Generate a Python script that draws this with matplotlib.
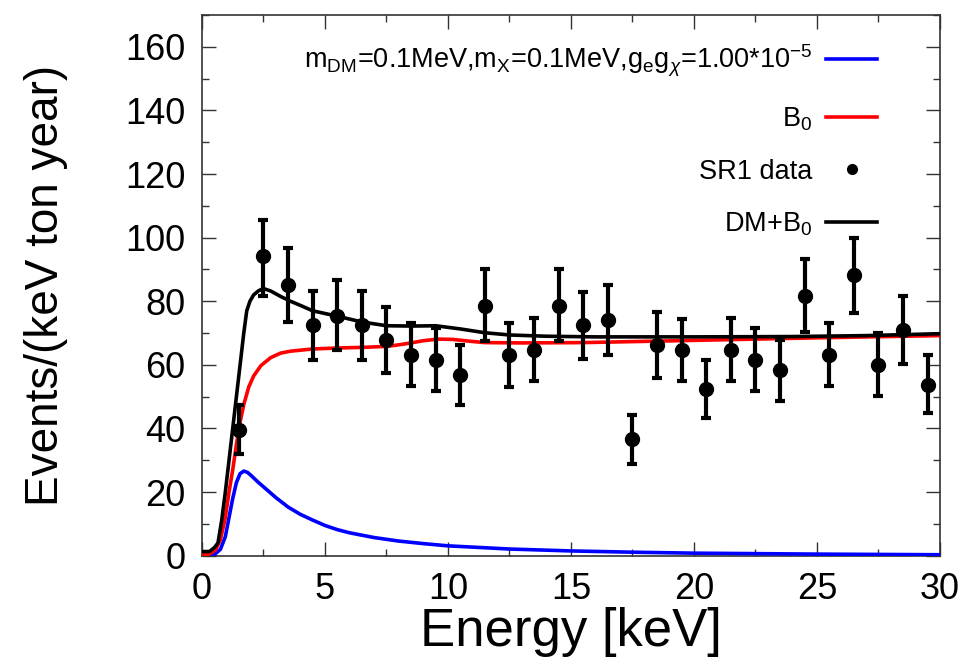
import numpy as np
import matplotlib
matplotlib.use('Agg')
import matplotlib.pyplot as plt
from matplotlib.ticker import MultipleLocator

plt.rcParams['font.family'] = ['Liberation Sans', 'DejaVu Sans']
plt.rcParams['mathtext.fontset'] = 'custom'
plt.rcParams['mathtext.rm'] = 'Liberation Sans'
plt.rcParams['mathtext.it'] = 'Liberation Sans:italic'
plt.rcParams['mathtext.sf'] = 'Liberation Sans'

# ---- SR1 data (bin centres, value, error bar ends) ----
sr1_x = [1.5, 2.5, 3.5, 4.5, 5.5, 6.5, 7.5, 8.5, 9.5, 10.5, 11.5, 12.5, 13.5, 14.5, 15.5,
         16.5, 17.5, 18.5, 19.5, 20.5, 21.5, 22.5, 23.5, 24.5, 25.5, 26.5, 27.5, 28.5, 29.5]
sr1_y = [39.6, 94.2, 85.0, 72.4, 75.5, 72.4, 67.9, 63.2, 61.6, 56.7, 78.6, 63.2, 64.6, 78.6, 72.4,
         74.0, 36.8, 66.2, 64.6, 52.4, 64.6, 61.6, 58.3, 81.8, 63.2, 88.1, 60.1, 70.9, 53.8]
sr1_hi = [47.5, 105.7, 96.8, 83.2, 86.6, 83.2, 78.2, 73.2, 71.6, 66.4, 90.0, 73.2, 74.8, 90.0, 83.0,
          85.0, 44.3, 76.5, 74.4, 61.4, 74.8, 71.6, 67.9, 93.3, 73.2, 100.0, 70.0, 81.6, 63.0]
sr1_lo = [32.0, 81.6, 73.4, 61.6, 64.8, 61.6, 57.4, 53.2, 51.7, 47.5, 67.4, 53.0, 54.8, 67.4, 62.0,
          63.2, 28.8, 55.9, 54.8, 43.3, 54.8, 51.7, 48.7, 70.2, 53.2, 76.3, 50.1, 60.4, 44.8]

# ---- B0 background (red) ----
b0_x = [0, 0.3, 0.55, 0.75, 0.95, 1.1, 1.25, 1.4, 1.55, 1.7, 1.9, 2.1, 2.4, 2.8, 3.2, 3.6,
        4.5, 5.5, 6.5, 7.5, 8.0, 8.5, 9.0, 9.6, 10.2, 10.8, 11.5, 13, 15.5, 20, 25, 30]
b0_y = [0.2, 0.5, 1.8, 5, 12, 20, 27, 35, 42, 47.5, 53, 56.5, 59.8, 62.3, 63.7, 64.3,
        65.0, 65.3, 65.5, 65.8, 66.3, 66.9, 67.6, 68.1, 68.0, 67.5, 67.0, 66.9, 67.0, 67.7, 68.5, 69.2]

# ---- DM signal (blue) ----
dm_x = [0, 0.5, 0.75, 0.95, 1.1, 1.25, 1.4, 1.55, 1.7, 1.85, 2.0, 2.3, 2.6, 3.0, 3.5, 4.0,
        4.5, 5, 5.5, 6, 7, 8, 9, 10, 12.5, 15, 17.5, 20, 25, 30]
dm_y = [0, 0.3, 2, 6, 12, 18, 23, 25.8, 26.6, 26.2, 25.2, 23, 21, 18.3, 15.3, 13,
        11.2, 9.5, 8.2, 7.2, 5.7, 4.6, 3.8, 3.1, 2.1, 1.5, 1.1, 0.8, 0.5, 0.3]

# ---- DM+B0 (black) ----
tot_x = [0, 0.3, 0.5, 0.65, 0.8, 0.95, 1.1, 1.25, 1.4, 1.55, 1.7, 1.82, 1.95, 2.1, 2.3, 2.5,
         2.8, 3.2, 3.6, 4.0, 4.5, 5.5, 6.5, 7.5, 8.5, 9.5, 10.5, 11.5, 12.5, 14, 16, 20, 24, 27, 30]
tot_y = [1.3, 1.3, 2.5, 4, 11, 20, 30, 40, 50, 60, 70, 77, 80, 82, 83.3, 84,
         83.2, 81.5, 80, 78.7, 77, 75.3, 73.5, 72.3, 72.2, 72.3, 71.3, 70.1, 69.4, 69, 68.8, 68.8, 68.9, 69.2, 69.8]

dm_label = r'm$_{\rm DM}$=0.1MeV,m$_{\rm X}$=0.1MeV,g$_{\rm e}$g$_{\chi}$=1.00*10$^{-5}$'

fig = plt.figure(figsize=(9.71, 6.70), dpi=100)
ax = fig.add_axes([0.208, 0.1706, 0.760, 0.807])

ax.plot(dm_x, dm_y, color='#0000ff', lw=2.6, label=dm_label, zorder=3)
ax.plot(b0_x, b0_y, color='#ff0000', lw=2.6, label=r'B$_{\rm 0}$', zorder=3)

sr1_y_arr = np.array(sr1_y)
yerr = [sr1_y_arr - np.array(sr1_lo), np.array(sr1_hi) - sr1_y_arr]
ax.errorbar(sr1_x, sr1_y, yerr=yerr, fmt='none', ecolor='black', elinewidth=3.0,
            capsize=3.8, capthick=3.0, zorder=4)
ax.plot(sr1_x, sr1_y, 'o', color='black', ms=10, ls='none', label='SR1 data', zorder=5)

ax.plot(tot_x, tot_y, color='black', lw=2.6, label=r'DM+B$_{\rm 0}$', zorder=3)

ax.set_xlim(0, 30)
ax.set_ylim(0, 170)
ax.xaxis.set_major_locator(MultipleLocator(5))
ax.xaxis.set_minor_locator(MultipleLocator(2.5))
ax.yaxis.set_major_locator(MultipleLocator(20))
ax.yaxis.set_minor_locator(MultipleLocator(10))
ax.set_yticks([0, 20, 40, 60, 80, 100, 120, 140, 160])

ax.tick_params(which='both', direction='in', top=True, right=True, color='#333333', width=1.0)
ax.tick_params(which='major', length=10, labelsize=26)
ax.tick_params(which='minor', length=5)
ax.tick_params(axis='x', pad=12)
ax.tick_params(axis='y', pad=12)
for s in ax.spines.values():
    s.set_linewidth(1.2)
    s.set_color('#333333')

ax.set_xlabel('Energy [keV]', fontsize=38)
ax.set_ylabel('Events/(keV ton year)', fontsize=33)
ax.xaxis.set_label_coords(0.5, -0.095)
ax.yaxis.set_label_coords(-0.182, 0.5)

ax.legend(loc='upper right', frameon=False, markerfirst=False, fontsize=19.5,
          handlelength=1.9, handletextpad=0.5, labelspacing=0.96, markerscale=0.7,
          bbox_to_anchor=(0.93, 0.968), borderaxespad=0)

fig.savefig('out.png', dpi=100)
